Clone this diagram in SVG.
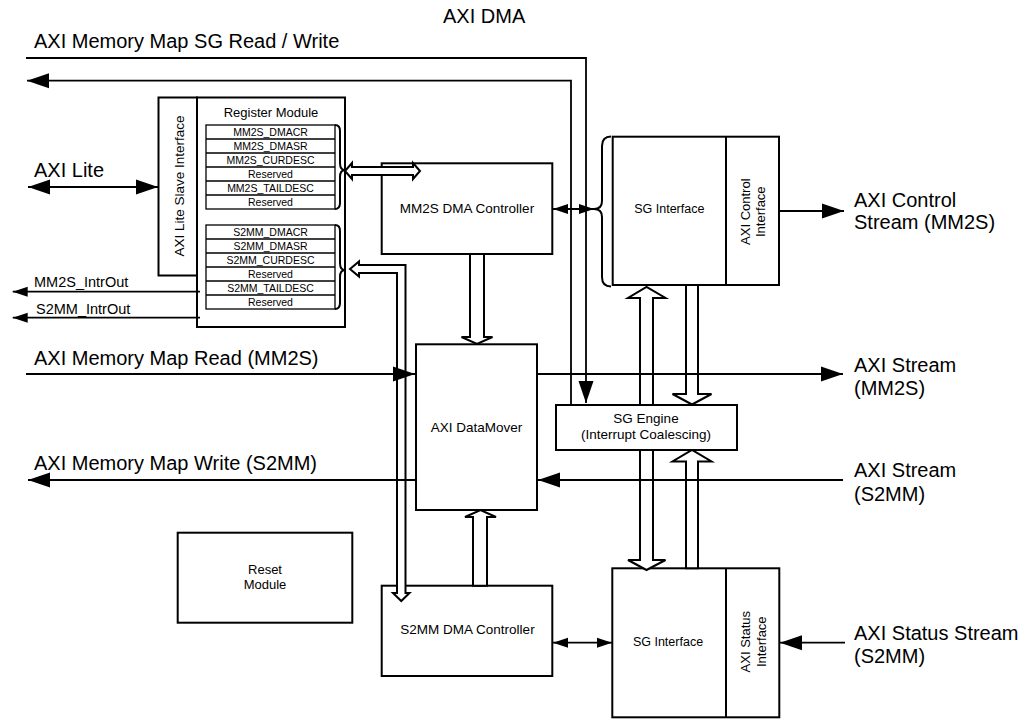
<svg xmlns="http://www.w3.org/2000/svg" width="1031" height="721" viewBox="0 0 1031 721">
<style>
.box{fill:#fff;stroke:#000;stroke-width:2}
.reg{fill:#fff;stroke:#000;stroke-width:1.3}
.fat{fill:#fff;stroke:#000;stroke-width:2;stroke-linejoin:miter}
.wire{fill:none;stroke:#000;stroke-width:1.8}
.brace{fill:none;stroke:#000;stroke-width:2}
text{font-family:"Liberation Sans",Arial,Helvetica,sans-serif;fill:#000}
.lbl{font-size:20px}
.intr{font-size:14.5px}
.med{font-size:13.5px;text-anchor:middle}
.sm{font-size:12.5px;text-anchor:middle}
.regt{font-size:10.5px;text-anchor:middle}
</style>
<defs>
<marker id="big" markerUnits="userSpaceOnUse" markerWidth="24" markerHeight="16" refX="22" refY="7.5" orient="auto-start-reverse" overflow="visible"><path d="M0,0 L22,7.5 L0,15 z" fill="#000"/></marker>
<marker id="small" markerUnits="userSpaceOnUse" markerWidth="16" markerHeight="11" refX="15" refY="5" orient="auto-start-reverse" overflow="visible"><path d="M0,0 L15,5 L0,10 z" fill="#000"/></marker>
</defs>
<rect width="1031" height="721" fill="#fff"/>

<text id="title" class="lbl" x="443" y="23">AXI DMA</text>

<g id="register-module">
<rect class="box" x="158.5" y="97.5" width="38.5" height="178"/>
<text class="med" transform="translate(183.5,186) rotate(-90)">AXI Lite Slave Interface</text>
<rect class="box" x="197" y="97.5" width="148" height="229.5"/>
<text class="med" x="271" y="116.7" style="font-size:13px">Register Module</text>
<rect class="reg" x="206" y="125" width="129" height="84"/>
<path class="reg" d="M206,139H335M206,153H335M206,167H335M206,181H335M206,195H335"/>
<text class="regt" x="270.5" y="136.3">MM2S_DMACR</text>
<text class="regt" x="270.5" y="150.3">MM2S_DMASR</text>
<text class="regt" x="270.5" y="164.3">MM2S_CURDESC</text>
<text class="regt" x="270.5" y="178.3">Reserved</text>
<text class="regt" x="270.5" y="192.3">MM2S_TAILDESC</text>
<text class="regt" x="270.5" y="206.3">Reserved</text>
<rect class="reg" x="206" y="225" width="129" height="84"/>
<path class="reg" d="M206,239H335M206,253H335M206,267H335M206,281H335M206,295H335"/>
<text class="regt" x="270.5" y="236.3">S2MM_DMACR</text>
<text class="regt" x="270.5" y="250.3">S2MM_DMASR</text>
<text class="regt" x="270.5" y="264.3">S2MM_CURDESC</text>
<text class="regt" x="270.5" y="278.3">Reserved</text>
<text class="regt" x="270.5" y="292.3">S2MM_TAILDESC</text>
<text class="regt" x="270.5" y="306.3">Reserved</text>
</g>

<g id="mm2s-dma-controller">
<rect class="box" x="381.7" y="163.3" width="170.6" height="90.7"/>
<text class="med" x="467" y="212.7">MM2S DMA Controller</text>
</g>

<g id="axi-datamover">
<rect class="box" x="416" y="344.3" width="121" height="165.7"/>
<text class="med" x="476.5" y="431.7">AXI DataMover</text>
</g>

<g id="s2mm-dma-controller">
<rect class="box" x="381.7" y="585.7" width="170.6" height="90.3"/>
<text class="med" x="467.5" y="634">S2MM DMA Controller</text>
</g>

<g id="reset-module">
<rect class="box" x="177.7" y="532.7" width="174.6" height="90"/>
<text class="med" x="265" y="574" style="font-size:13px">Reset</text>
<text class="med" x="265" y="589.3" style="font-size:13px">Module</text>
</g>

<g id="sg-interface-mm2s">
<rect class="box" x="612.7" y="136.7" width="166.3" height="148.3"/>
<line class="box" x1="726" y1="136.7" x2="726" y2="285"/>
<text class="sm" x="669.3" y="213.3">SG Interface</text>
<text class="med" transform="translate(749.5,211.7) rotate(-90)" style="font-size:13px">AXI Control<tspan x="0" y="15.5">Interface</tspan></text>
</g>

<g id="sg-interface-s2mm">
<rect class="box" x="612.3" y="568.3" width="167" height="149"/>
<line class="box" x1="726" y1="568.3" x2="726" y2="717.3"/>
<text class="sm" x="668" y="645.7">SG Interface</text>
<text class="med" transform="translate(750,641.7) rotate(-90)" style="font-size:13px">AXI Status<tspan x="0" y="15.5">Interface</tspan></text>
</g>

<g id="connectors">
<polygon class="fat" points="345,171 352,163 352,167 413,167 413,163 420,171 413,179 413,175 352,175 352,179"/>
<polygon class="fat" points="350,269 359,261.5 359,265 405.5,265 405.5,593 409.5,593 401.25,601 393,593 397,593 397,273 359,273 359,276.5"/>
<polygon class="fat" points="470,254 484,254 484,337 492.5,337 477,344 461.5,337 470,337"/>
<polygon class="fat" points="473,585.7 487,585.7 487,517 496,517 480.5,510 465,517 473,517"/>
<polygon class="fat" points="640,405 640,298 628,298 646.5,287 665.5,298 653,298 653,405"/>
<polygon class="fat" points="640,450 653,450 653,560 665.5,560 646.5,570 628,560 640,560"/>
<polygon class="fat" points="686,285 698,285 698,394 711.5,394 692,404.5 672.5,394 686,394"/>
<polygon class="fat" points="686,568.3 698,568.3 698,461.5 711.5,461.5 692,450 672.5,461.5 686,461.5"/>

<polyline class="wire" points="26,58 586,58 586,403" marker-end="url(#big)"/>
<polyline class="wire" points="571,405 571,80.7 27,80.7" marker-end="url(#big)"/>
<line class="wire" x1="28" y1="187" x2="158" y2="187" marker-start="url(#big)" marker-end="url(#big)"/>
<line class="wire" x1="200" y1="291.7" x2="12.7" y2="291.7" marker-end="url(#small)"/>
<line class="wire" x1="200" y1="317.7" x2="12.7" y2="317.7" marker-end="url(#small)"/>
<line class="wire" x1="26" y1="374" x2="415" y2="374" marker-end="url(#big)"/>
<line class="wire" x1="537" y1="374" x2="843" y2="374" marker-end="url(#big)"/>
<line class="wire" x1="843" y1="480" x2="538" y2="480" marker-end="url(#big)"/>
<line class="wire" x1="416" y1="480" x2="28" y2="480" marker-end="url(#big)"/>
<line class="wire" x1="553" y1="209" x2="594" y2="209" marker-start="url(#small)" marker-end="url(#small)"/>
<line class="wire" x1="553" y1="642.7" x2="612" y2="642.7" marker-start="url(#small)" marker-end="url(#small)"/>
<line class="wire" x1="779" y1="211" x2="844" y2="211" marker-end="url(#big)"/>
<line class="wire" x1="845" y1="642.7" x2="780" y2="642.7" marker-end="url(#big)"/>

<path class="brace" d="M335,125 Q340,125 340,131 L340,163 Q340,170 345,170 Q340,170 340,177 L340,203 Q340,209 335,209"/>
<path class="brace" d="M335,225 Q340,225 340,231 L340,263 Q340,270 345,270 Q340,270 340,277 L340,303 Q340,309 335,309"/>
<path class="brace" d="M611,136.5 Q602,136.5 602,146 L602,201 Q602,209 594,209 Q602,209 602,217 L602,277 Q602,286.5 611,286.5"/>
</g>

<g id="sg-engine">
<rect class="box" x="556" y="405" width="181" height="45"/>
<text class="med" x="646" y="422.7">SG Engine</text>
<text class="med" x="646" y="439.3">(Interrupt Coalescing)</text>
</g>

<g id="labels">
<text class="lbl" x="34" y="48">AXI Memory Map SG Read / Write</text>
<text class="lbl" x="34" y="177">AXI Lite</text>
<text class="intr" x="34" y="287.3">MM2S_IntrOut</text>
<text class="intr" x="36" y="314">S2MM_IntrOut</text>
<text class="lbl" x="34" y="365">AXI Memory Map Read (MM2S)</text>
<text class="lbl" x="34" y="470">AXI Memory Map Write (S2MM)</text>
<text class="lbl" x="854" y="206.7">AXI Control</text>
<text class="lbl" x="854" y="229.3">Stream (MM2S)</text>
<text class="lbl" x="854" y="371.7">AXI Stream</text>
<text class="lbl" x="854" y="395">(MM2S)</text>
<text class="lbl" x="854" y="477.3">AXI Stream</text>
<text class="lbl" x="854" y="500.7">(S2MM)</text>
<text class="lbl" x="854" y="640">AXI Status Stream</text>
<text class="lbl" x="854" y="663.3">(S2MM)</text>
</g>
</svg>
